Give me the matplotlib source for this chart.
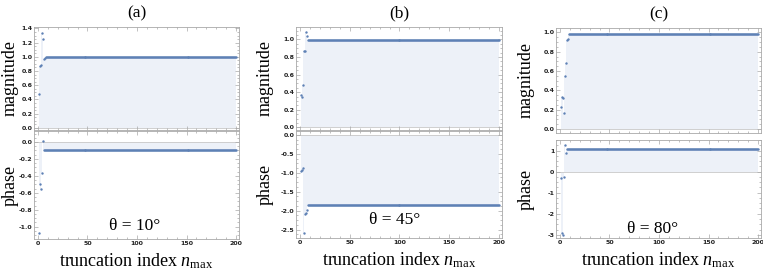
import matplotlib
matplotlib.use("Agg")
import matplotlib.pyplot as plt
import numpy as np
from matplotlib.ticker import MultipleLocator, AutoMinorLocator

plt.rcParams['font.family'] = ['Liberation Serif', 'DejaVu Serif']
plt.rcParams['mathtext.fontset'] = 'custom'
plt.rcParams['mathtext.rm'] = 'Liberation Serif'
plt.rcParams['mathtext.it'] = 'Liberation Serif:italic'
plt.rcParams['axes.unicode_minus'] = False

# truncation index and read-off values (early transients, then converged value)
n_max = np.arange(1, 201)

panel_labels = ["(a)", "(b)", "(c)"]
angle_labels = [r"θ = 10°", r"θ = 45°", r"θ = 80°"]

mag_a_start = [0.47, 0.87, 0.89, 1.33, 1.25, 0.97, 0.98]
mag_a_final = 1.0
phase_a_start = [-1.08, -0.50, -0.55, -0.36, 0.01, -0.09, -0.10]
phase_a_final = -0.10

mag_b_start = [0.37, 0.35, 0.48, 0.87, 0.87, 1.08, 1.04]
mag_b_final = 0.99
phase_b_start = [-0.95, -0.93, -0.88, -2.60, -2.08, -2.07, -1.97]
phase_b_final = -1.86

mag_c_start = [0.23, 0.33, 0.32, 0.17, 0.55, 0.68, 0.92, 0.93]
mag_c_final = 0.985
phase_c_start = [-0.30, -2.93, -3.03, -0.26, 1.28, 0.86, 1.08]
phase_c_final = 1.08


def series(start, final):
    vals = np.full(len(n_max), final, dtype=float)
    vals[:len(start)] = start
    return vals


mags = [series(mag_a_start, mag_a_final), series(mag_b_start, mag_b_final),
        series(mag_c_start, mag_c_final)]
phases = [series(phase_a_start, phase_a_final), series(phase_b_start, phase_b_final),
          series(phase_c_start, phase_c_final)]

W, H = 763, 278
fig = plt.figure(figsize=(W / 100, H / 100), dpi=100)

# pixel boxes: (left, right, mag_top, mag_bottom, phase_top, phase_bottom)
boxes = [(34, 239, 27, 130, 131, 239),
         (296, 502, 27, 130, 131, 238),
         (556, 761, 28, 133, 140, 238)]
mag_lims = [(-0.03, 1.42), (-0.03, 1.14), (-0.04, 1.045)]
mag_steps = [0.2, 0.2, 0.2]
phase_lims = [(-1.145, 0.13), (-2.72, 0.1), (-3.15, 1.5)]
phase_steps = [0.2, 0.5, 1.0]
text_pos = [(0.49, 0.12), (0.48, 0.17), (0.47, 0.09)]
ylabel_right = [19, 274, 535]

dot_color = '#5E81B5'
fill_color = '#EDF1F8'
frame_color = '#A8A8A8'


def px_axes(l, r, t, b):
    return fig.add_axes([l / W, 1 - b / H, (r - l) / W, (b - t) / H])


def style(ax, ylim, ystep, show_x):
    ax.set_xlim(-4, 203)
    ax.set_ylim(*ylim)
    ax.xaxis.set_major_locator(MultipleLocator(50))
    ax.xaxis.set_minor_locator(MultipleLocator(10))
    ax.yaxis.set_major_locator(MultipleLocator(ystep))
    ax.yaxis.set_minor_locator(AutoMinorLocator(4))
    ax.tick_params(which='both', direction='in', top=True, right=True,
                   color=frame_color, width=0.5)
    ax.tick_params(which='major', length=3)
    ax.tick_params(which='minor', length=1.5)
    ax.tick_params(labelsize=4.5, pad=1.2, labelcolor='#222222')
    for lab in ax.get_xticklabels() + ax.get_yticklabels():
        lab.set_family('DejaVu Sans')
        lab.set_fontweight('bold')
    if not show_x:
        ax.tick_params(labelbottom=False)
    for s in ax.spines.values():
        s.set_color(frame_color)
        s.set_linewidth(0.6)


def draw(ax, y):
    ax.fill_between(n_max, y, 0, step='mid', color=fill_color, lw=0)
    ax.axhline(0, color='#C8C8C8', lw=0.6, zorder=1)
    ax.scatter(n_max, y, s=3.0, color=dot_color, lw=0, zorder=3)


for i in range(3):
    l, r, mt, mb, pt, pb = boxes[i]
    lx = (ylabel_right[i] - l) / (r - l)
    ax_m = px_axes(l, r, mt, mb)
    draw(ax_m, mags[i])
    style(ax_m, mag_lims[i], mag_steps[i], False)
    ax_m.set_ylabel("magnitude", fontsize=13)
    ax_m.yaxis.set_label_coords(lx, 0.5)
    ax_m.set_title(panel_labels[i], fontsize=12.5, pad=7)

    ax_p = px_axes(l, r, pt, pb)
    draw(ax_p, phases[i])
    style(ax_p, phase_lims[i], phase_steps[i], True)
    ax_p.set_ylabel("phase", fontsize=13)
    ax_p.yaxis.set_label_coords(lx, 0.5)
    ax_p.set_xlabel(r"truncation index $n_{\mathrm{max}}$", fontsize=13, labelpad=4)
    ax_p.text(text_pos[i][0], text_pos[i][1], angle_labels[i], transform=ax_p.transAxes,
              ha='center', va='center', fontsize=12.5)

fig.savefig("out.png", dpi=100)
